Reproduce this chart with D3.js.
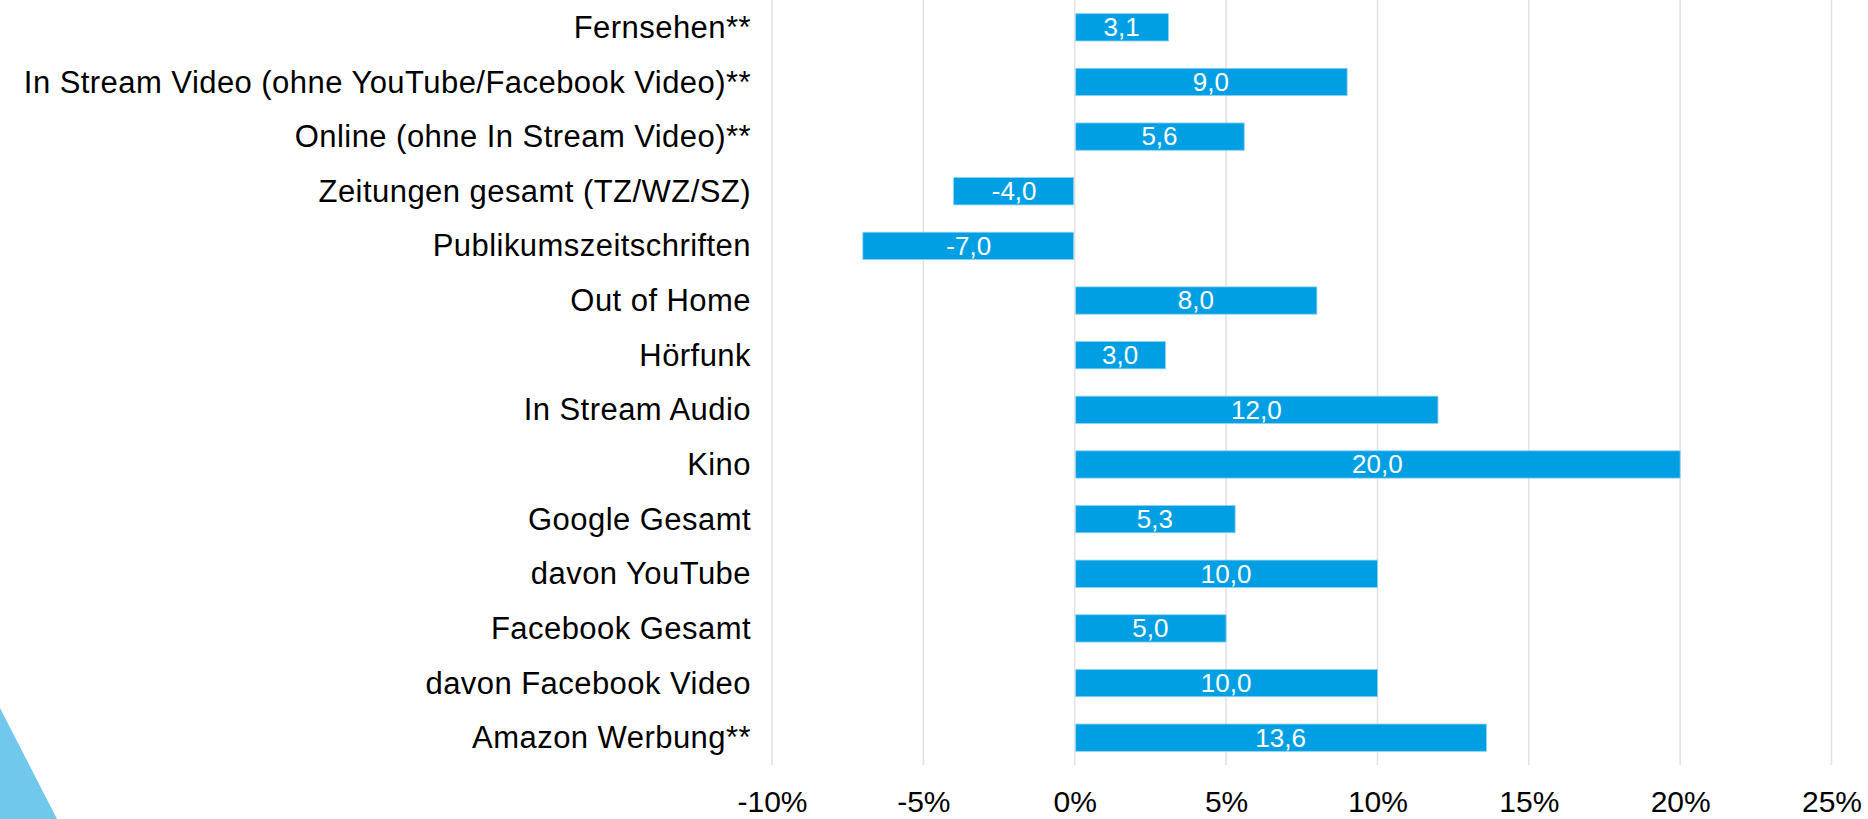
<!DOCTYPE html>
<html>
<head>
<meta charset="utf-8">
<script src="https://cdn.jsdelivr.net/npm/d3@7"></script>
<style>
  html, body { margin: 0; padding: 0; background: #ffffff; }
  svg { display: block; }
</style>
</head>
<body>
<svg id="chart" width="1868" height="819"></svg>
<script>
const categories = [
  "Fernsehen**",
  "In Stream Video (ohne YouTube/Facebook Video)**",
  "Online (ohne In Stream Video)**",
  "Zeitungen gesamt (TZ/WZ/SZ)",
  "Publikumszeitschriften",
  "Out of Home",
  "Hörfunk",
  "In Stream Audio",
  "Kino",
  "Google Gesamt",
  "davon YouTube",
  "Facebook Gesamt",
  "davon Facebook Video",
  "Amazon Werbung**"
];
const values = [3.1, 9.0, 5.6, -4.0, -7.0, 8.0, 3.0, 12.0, 20.0, 5.3, 10.0, 5.0, 10.0, 13.6];
const tickValues = [-10, -5, 0, 5, 10, 15, 20, 25];

const svg = d3.select("#chart");
const W = 1868, H = 819;
const plot = { left: 772, right: 1831.5, top: 0, bottom: 765 };
const FONT = "'Liberation Sans', Arial, Helvetica, sans-serif";

// decorative triangle bottom-left
svg.append("path")
  .attr("d", `M0,708 L57,${H} L0,${H} Z`)
  .attr("fill", "#70C8EC");

const x = d3.scaleLinear().domain([-10, 25]).range([plot.left, plot.right]);
const y = d3.scaleBand().domain(categories).range([plot.top, plot.bottom])
  .paddingInner(0.5).paddingOuter(0.25);

// gridlines
svg.append("g").selectAll("line").data(tickValues).join("line")
  .attr("x1", d => x(d)).attr("x2", d => x(d))
  .attr("y1", plot.top).attr("y2", plot.bottom)
  .attr("stroke", "#e3e3e3").attr("stroke-width", 1.6);

// x axis tick labels
const xAxis = d3.axisBottom(x).tickValues(tickValues).tickSize(0).tickPadding(0)
  .tickFormat(d => d + "%");
const gx = svg.append("g").attr("transform", `translate(0,${plot.bottom})`).call(xAxis);
gx.select(".domain").remove();
gx.selectAll("text")
  .attr("y", 47).attr("dy", 0)
  .attr("fill", "#000")
  .style("font-family", FONT)
  .style("font-size", "30px");

// y axis category labels
const yAxis = d3.axisLeft(y).tickSize(0).tickPadding(0);
const gy = svg.append("g").attr("transform", `translate(${plot.left - 21},0)`).call(yAxis);
gy.select(".domain").remove();
gy.selectAll("text")
  .attr("x", 0).attr("dy", "0.34em")
  .attr("fill", "#000")
  .style("font-family", FONT)
  .style("font-size", "31px")
  .style("letter-spacing", "0.45px");

// bars
const data = categories.map((c, i) => ({ c, v: values[i] }));
svg.append("g").selectAll("rect").data(data).join("rect")
  .attr("x", d => x(Math.min(0, d.v)) + (d.v >= 0 ? 1 : 0))
  .attr("width", d => Math.abs(x(d.v) - x(0)) - 1)
  .attr("y", d => y(d.c))
  .attr("height", y.bandwidth())
  .attr("fill", "#009FE3")
  .attr("stroke", "#8fd3f1")
  .attr("stroke-width", 0.8);

// value labels
const fmt = v => v.toFixed(1).replace(".", ",");
svg.append("g").selectAll("text").data(data).join("text")
  .attr("x", d => (x(d.v) + x(0)) / 2)
  .attr("y", d => y(d.c) + y.bandwidth() / 2)
  .attr("dy", "0.34em")
  .attr("text-anchor", "middle")
  .attr("fill", "#ffffff")
  .style("font-family", FONT)
  .style("font-size", "26px")
  .text(d => fmt(d.v));
</script>
</body>
</html>
